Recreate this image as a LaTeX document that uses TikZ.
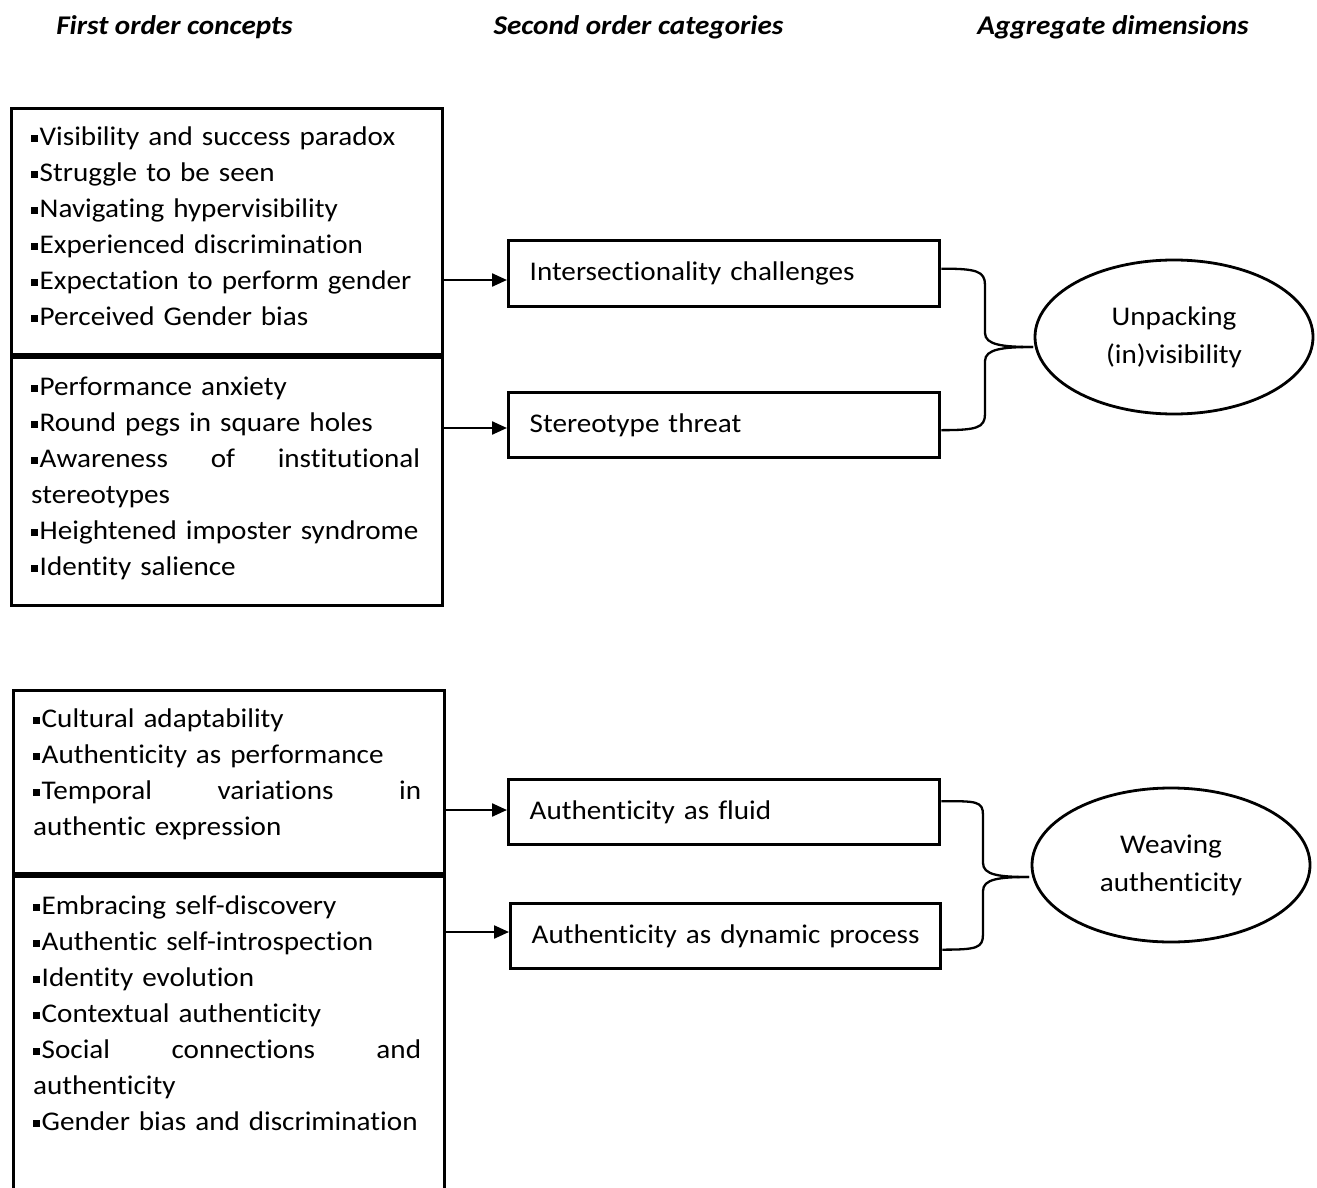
\documentclass[tikz,border=0pt]{standalone}
\usepackage{fontspec}
\setmainfont{Carlito}[FakeStretch=1.08,Ligatures=NoCommon]
\usetikzlibrary{arrows.meta,shapes.geometric,calc}
\newcommand\fs{\fontsize{27}{36}\selectfont}
\newcommand\fse{\fontsize{27}{38}\selectfont}
\newcommand\bul{\rule[3.3pt]{6.5pt}{6.8pt}\kern2pt}
\tikzset{
 box/.style={draw, line width=3.3pt, rectangle, inner sep=0pt, anchor=north west},
 list/.style={anchor=north west, inner sep=0pt, text width=389pt, align=left, font=\fs},
 cat/.style={draw, line width=3.3pt, anchor=north west, minimum height=66pt, inner xsep=21pt, inner ysep=0pt, text width=389pt, align=left, font=\fs},
 dim/.style={draw, ellipse, line width=2.8pt, minimum width=278pt, minimum height=154pt, align=center, font=\fse, inner sep=0pt},
 arr/.style={line width=2.3pt, -{Triangle[length=15pt,width=13pt]}},
 brace/.style={line width=2.3pt},
 head/.style={font=\fs\bfseries\itshape, inner sep=0pt}
}
\begin{document}
\begin{tikzpicture}[x=1pt,y=-1pt]
\useasboundingbox[fill=white] (0,0) rectangle (1317,1188);
% headers
\node[head] (h1) at (174.5,27) {First order concepts};
\node[head] (h2) at (638.5,27) {Second order categories};
\node[head] (h3) at (1113,27) {Aggregate dimensions};
% first order boxes
\node[box, minimum width=431pt, minimum height=246pt] (b1) at (10,107) {};
\node[box, minimum width=431pt, minimum height=248pt] (b2) at (10,356) {};
\node[box, minimum width=431pt, minimum height=183pt] (b3) at (12,689) {};
\node[box, minimum width=431pt, minimum height=330pt] (b4) at (12,875) {};
\node[list] (t1) at (31,119.8) {\strut\bul Visibility and success paradox\\
\bul Struggle to be seen\\
\bul Navigating hypervisibility\\
\bul Experienced discrimination\\
\bul Expectation to perform gender\\
\bul Perceived Gender bias};
\node[list] (t2) at (31,369.8) {\strut\bul Performance anxiety\\
\bul Round pegs in square holes\\
\bul Awareness\hfill of\hfill institutional\\
stereotypes\\
\bul Heightened imposter syndrome\\
\bul Identity salience};
\node[list, text width=388pt] (t3) at (33,701.8) {\strut\bul Cultural adaptability\\
\bul Authenticity as performance\\
\bul Temporal\hfill variations\hfill in\\
authentic expression};
\node[list, text width=388pt] (t4) at (33,888.8) {\strut\bul Embracing self-discovery\\
\bul Authentic self-introspection\\
\bul Identity evolution\\
\bul Contextual authenticity\\
\bul Social\hfill connections\hfill and\\
authenticity\\
\bul Gender bias and discrimination};
% second order categories
\node[cat] (sA) at (507,239) {Intersectionality challenges};
\node[cat, minimum height=65pt] (sB) at (507,391) {Stereotype threat};
\node[cat, minimum height=65pt] (sC) at (507,778) {Authenticity as fluid};
\node[cat, minimum height=65pt, text width=388pt] (sD) at (509,902) {Authenticity as dynamic process};
% aggregate dimensions
\node[dim] (U) at (1174,337) {Unpacking\\(in)visibility};
\node[dim] (W) at (1171,865) {Weaving\\authenticity};
% arrows
\coordinate (a1) at (0,280);
\coordinate (a2) at (0,428);
\coordinate (a3) at (0,810);
\coordinate (a4) at (0,932);
\draw[arr] (b1.east |- a1) -- (sA.west |- a1);
\draw[arr] (b2.east |- a2) -- (sB.west |- a2);
\draw[arr] (b3.east |- a3) -- (sC.west |- a3);
\draw[arr] (b4.east |- a4) -- (sD.west |- a4);
% braces
\coordinate (k1) at (1033,347);
\coordinate (k2) at (1029,877);
\draw[brace] ($(sA.east)+(0,-5)$) .. controls +(35,0) and +(0,-14) .. (985,285) -- (985,333) .. controls +(0,12) and +(-30,0) .. (k1);
\draw[brace] (k1) .. controls +(-30,0) and +(0,-12) .. (985,361) -- (985,414) .. controls +(0,14) and +(35,0) .. ($(sB.east)+(0,5)$);
\draw[brace] ($(sC.east)+(0,-11)$) .. controls +(35,0) and +(0,-14) .. (983,815) -- (983,863) .. controls +(0,12) and +(-30,0) .. (k2);
\draw[brace] (k2) .. controls +(-30,0) and +(0,-12) .. (983,891) -- (983,934) .. controls +(0,14) and +(35,0) .. ($(sD.east)+(0,13.5)$);
\end{tikzpicture}
\end{document}
